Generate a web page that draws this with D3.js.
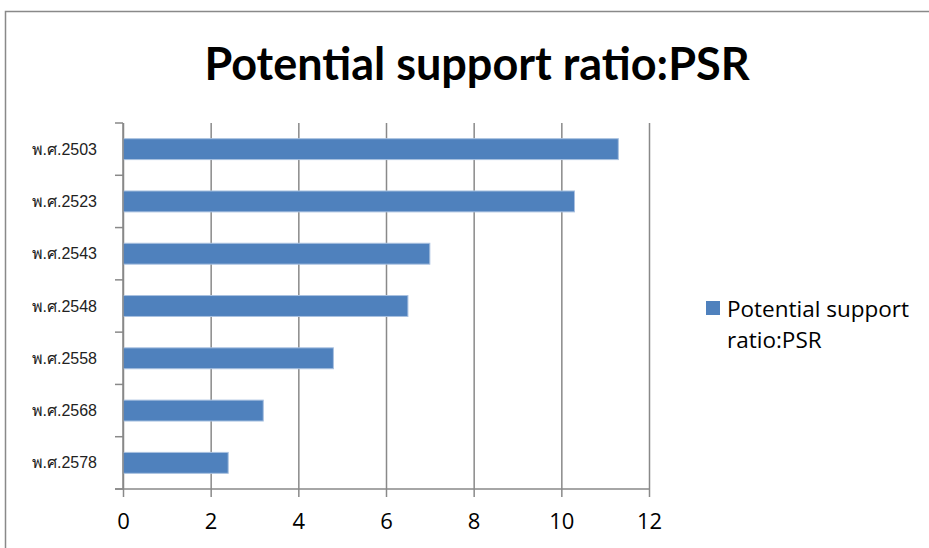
<!DOCTYPE html>
<html>
<head>
<meta charset="utf-8">
<script src="https://cdn.jsdelivr.net/npm/d3@7"></script>
<style>
  body { margin: 0; background: #fff; }
  svg { display: block; }
</style>
</head>
<body>
<svg width="929" height="548"></svg>
<script>
const TITLE = 'Potential support ratio:PSR';
const SERIES_NAME = ['Potential support', 'ratio:PSR'];
const YEARS = ['พ.ศ.2503', 'พ.ศ.2523', 'พ.ศ.2543', 'พ.ศ.2548', 'พ.ศ.2558', 'พ.ศ.2568', 'พ.ศ.2578'];
const PSR = [11.3, 10.3, 7.0, 6.5, 4.8, 3.2, 2.4];
const X_TICKS = [0, 2, 4, 6, 8, 10, 12];

const BLUE = '#4F81BD';
const GRID = '#898989';

const svg = d3.select('svg');

// outer chart frame (runs off the right and bottom edge)
svg.append('rect')
    .attr('x', 5.5).attr('y', 11.5)
    .attr('width', 960).attr('height', 580)
    .attr('fill', '#fff')
    .attr('stroke', GRID)
    .attr('stroke-width', 1.5);

svg.append('text')
    .attr('x', 477)
    .attr('y', 80)
    .attr('text-anchor', 'middle')
    .style('font-family', 'Lato, sans-serif')
    .style('font-weight', 'bold')
    .style('font-size', '45px')
    .text(TITLE);

const x = d3.scaleLinear().domain([0, 12]).range([123, 649]);
const y = d3.scaleBand().domain(YEARS).range([123, 489]).paddingInner(0.6).paddingOuter(0.3);

// vertical gridlines
const gx = svg.append('g')
    .attr('transform', 'translate(0,489)')
    .call(d3.axisBottom(x).tickValues(X_TICKS).tickSize(-366).tickFormat(''));
gx.select('.domain').remove();
gx.selectAll('line').attr('stroke', GRID).attr('stroke-width', 1.5);

const xAxis = svg.append('g')
    .attr('transform', 'translate(0,489)')
    .call(d3.axisBottom(x).tickValues(X_TICKS).tickSize(8).tickSizeOuter(0).tickPadding(16));
xAxis.select('.domain').remove();
xAxis.selectAll('line').attr('stroke', GRID).attr('stroke-width', 1.5);
xAxis.selectAll('text')
    .attr('fill', '#000')
    .style('font-family', '"Open Sans", sans-serif')
    .style('font-size', '22px');

// bars
svg.append('g')
    .selectAll('rect')
    .data(PSR)
    .enter()
    .append('rect')
    .attr('x', x(0))
    .attr('y', (d, i) => y(YEARS[i]))
    .attr('width', d => x(d) - x(0))
    .attr('height', y.bandwidth())
    .attr('fill', BLUE)
    .attr('stroke', '#A9C1E0')
    .attr('stroke-width', 1);

// category axis: line, ticks at band boundaries, labels
const gap = (y.step() - y.bandwidth()) / 2;
const bounds = YEARS.map(c => y(c) - gap).concat([489]);
svg.append('g')
    .selectAll('line')
    .data(bounds)
    .enter()
    .append('line')
    .attr('x1', 115).attr('x2', 123)
    .attr('y1', d => d).attr('y2', d => d)
    .attr('stroke', GRID).attr('stroke-width', 1.5);

svg.append('line')
    .attr('x1', 123).attr('x2', 123)
    .attr('y1', 123).attr('y2', 489)
    .attr('stroke', GRID).attr('stroke-width', 1.5);
svg.append('line')
    .attr('x1', 115).attr('x2', 649)
    .attr('y1', 489).attr('y2', 489)
    .attr('stroke', GRID).attr('stroke-width', 1.5);

svg.append('g')
    .selectAll('text')
    .data(YEARS)
    .enter()
    .append('text')
    .attr('x', 97)
    .attr('y', d => y(d) + y.bandwidth() / 2)
    .attr('dy', '0.35em')
    .attr('text-anchor', 'end')
    .attr('fill', '#222')
    .style('font-family', '"Liberation Sans", "Noto Sans", sans-serif')
    .style('font-size', '16px')
    .text(d => d);

// legend
const legend = svg.append('g');
legend.append('rect')
    .attr('x', 706).attr('y', 301)
    .attr('width', 14).attr('height', 14)
    .attr('fill', BLUE);
legend.selectAll('text')
    .data(SERIES_NAME)
    .enter()
    .append('text')
    .attr('x', 727)
    .attr('y', (d, i) => 317 + i * 31)
    .attr('fill', '#000')
    .style('font-family', '"Open Sans", sans-serif')
    .style('font-size', '22.5px')
    .text(d => d);
</script>
</body>
</html>
